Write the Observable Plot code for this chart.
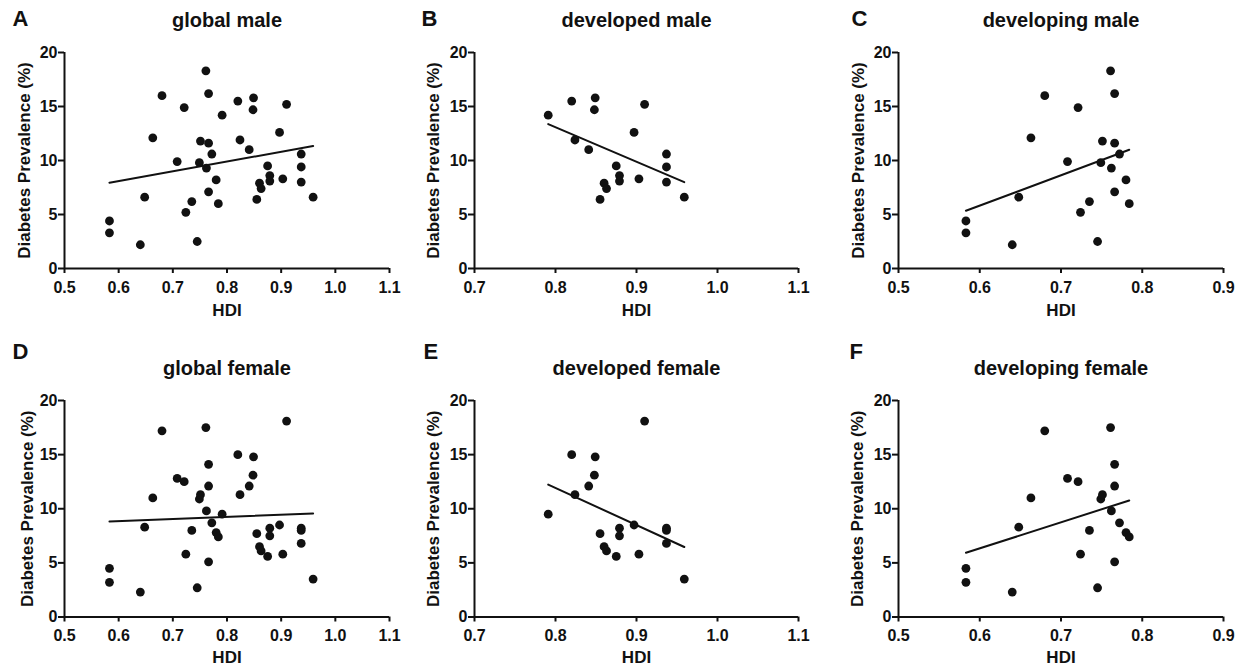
<!DOCTYPE html>
<html>
<head>
<meta charset="utf-8">
<script src="https://cdn.jsdelivr.net/npm/d3@7"></script>
<script src="https://cdn.jsdelivr.net/npm/@observablehq/plot@0.6"></script>
<style>
  html, body { margin: 0; padding: 0; background: white; }
  #root { position: relative; width: 1239px; height: 667px; overflow: hidden; background: white; }
  .panel { position: absolute; }
  .panel svg [aria-label*="axis"] path, .panel svg [aria-label*="axis"] line { stroke-width: 2px; }
</style>
</head>
<body>
<div id="root"></div>
<script>
// ---- Data ----
const developingHDI    = [0.583, 0.583, 0.640, 0.648, 0.663, 0.680, 0.708, 0.721, 0.724, 0.735, 0.745, 0.749, 0.751, 0.761, 0.762, 0.766, 0.766, 0.766, 0.772, 0.780, 0.784];
const developingMale   = [4.4, 3.3, 2.2, 6.6, 12.1, 16.0, 9.9, 14.9, 5.2, 6.2, 2.5, 9.8, 11.8, 18.3, 9.3, 16.2, 11.6, 7.1, 10.6, 8.2, 6.0];
const developingFemale = [4.5, 3.2, 2.3, 8.3, 11.0, 17.2, 12.8, 12.5, 5.8, 8.0, 2.7, 10.9, 11.3, 17.5, 9.8, 14.1, 12.1, 5.1, 8.7, 7.8, 7.4];

const developedHDI     = [0.791, 0.820, 0.824, 0.841, 0.849, 0.848, 0.855, 0.860, 0.863, 0.875, 0.879, 0.879, 0.897, 0.903, 0.910, 0.937, 0.937, 0.937, 0.959];
const developedMale    = [14.2, 15.5, 11.9, 11.0, 15.8, 14.7, 6.4, 7.9, 7.4, 9.5, 8.6, 8.1, 12.6, 8.3, 15.2, 10.6, 9.4, 8.0, 6.6];
const developedFemale  = [9.5, 15.0, 11.3, 12.1, 14.8, 13.1, 7.7, 6.5, 6.1, 5.6, 8.2, 7.5, 8.5, 5.8, 18.1, 8.2, 8.0, 6.8, 3.5];

const panelLetters = ["A", "B", "C", "D", "E", "F"];
const panelTitles  = ["global male", "developed male", "developing male", "global female", "developed female", "developing female"];
const xDomains     = [[0.5, 1.1], [0.7, 1.1], [0.5, 0.9], [0.5, 1.1], [0.7, 1.1], [0.5, 0.9]];
const yTicks       = [0, 5, 10, 15, 20];
const xLabel = "HDI";
const yLabel = "Diabetes Prevalence (%)";

function rows(hdi, vals) { return hdi.map((h, i) => ({hdi: h, v: vals[i]})); }
const developedM = rows(developedHDI, developedMale);
const developingM = rows(developingHDI, developingMale);
const developedF = rows(developedHDI, developedFemale);
const developingF = rows(developingHDI, developingFemale);
const datasets = [
  developedM.concat(developingM), developedM, developingM,
  developedF.concat(developingF), developedF, developingF
];

// ---- Layout ----
const colLeft   = [0, 413, 826];
const colWidth  = [413, 413, 413];
const colMargin = [[64, 24], [61, 28], [72, 16]];
const rowTop    = [0, 333];
const rowHeight = [333, 334];
const rowMargin = [[52, 65], [67, 50.5]];
const letterX   = [12, 8, 25, 12, 10, 23];
const yLabelDx  = [-40, -41, -40, -37, -41, -41];

const font = "'Liberation Sans', Arial, Helvetica, sans-serif";
const root = document.getElementById("root");

datasets.forEach((data, i) => {
  const c = i % 3, r = Math.floor(i / 3);
  const [ml, mr] = colMargin[c];
  const [mt, mb] = rowMargin[r];
  const [x0, x1] = xDomains[i];
  const xt = d3.range(Math.round(x0 * 10), Math.round(x1 * 10) + 1).map(d => d / 10);
  const chart = Plot.plot({
    width: colWidth[c],
    height: rowHeight[r],
    marginLeft: ml, marginRight: mr, marginTop: mt, marginBottom: mb,
    style: {fontFamily: font, fontSize: "16px", fontWeight: "bold", color: "#111", background: "white", overflow: "visible"},
    x: {domain: [x0, x1], ticks: xt, tickFormat: d3.format(".1f"), tickSize: 5, tickPadding: 8, label: null},
    y: {domain: [0, 20], ticks: yTicks, tickSize: 6, tickPadding: 1, label: null},
    marks: [
      Plot.ruleY([0], {stroke: "#111", strokeWidth: 2}),
      Plot.ruleX([x0], {stroke: "#111", strokeWidth: 2}),
      Plot.dot(data, {x: "hdi", y: "v", r: 4.4, fill: "#111", stroke: "none"}),
      Plot.linearRegressionY(data, {x: "hdi", y: "v", ci: 0, stroke: "#111", strokeWidth: 2}),
      Plot.text([panelTitles[i]], {text: d => d, frameAnchor: "top", lineAnchor: "middle", dy: -32, fontSize: 20, fontWeight: "bold", fill: "#111"}),
      Plot.text([panelLetters[i]], {text: d => d, frameAnchor: "top-left", textAnchor: "start", lineAnchor: "middle", dx: letterX[i] - ml, dy: 18 - mt, fontSize: 22, fontWeight: "bold", fill: "#111"}),
      Plot.text([yLabel], {text: d => d, frameAnchor: "left", textAnchor: "middle", lineAnchor: "middle", rotate: -90, dx: yLabelDx[i], fontSize: 17, fontWeight: "bold", fill: "#111"}),
      Plot.text([xLabel], {text: d => d, frameAnchor: "bottom", textAnchor: "middle", lineAnchor: "middle", dy: r === 0 ? 42 : 41, fontSize: 17, fontWeight: "bold", fill: "#111"})
    ]
  });
  const div = document.createElement("div");
  div.className = "panel";
  div.style.left = colLeft[c] + "px";
  div.style.top = rowTop[r] + "px";
  div.appendChild(chart);
  root.appendChild(div);
});
</script>
</body>
</html>
